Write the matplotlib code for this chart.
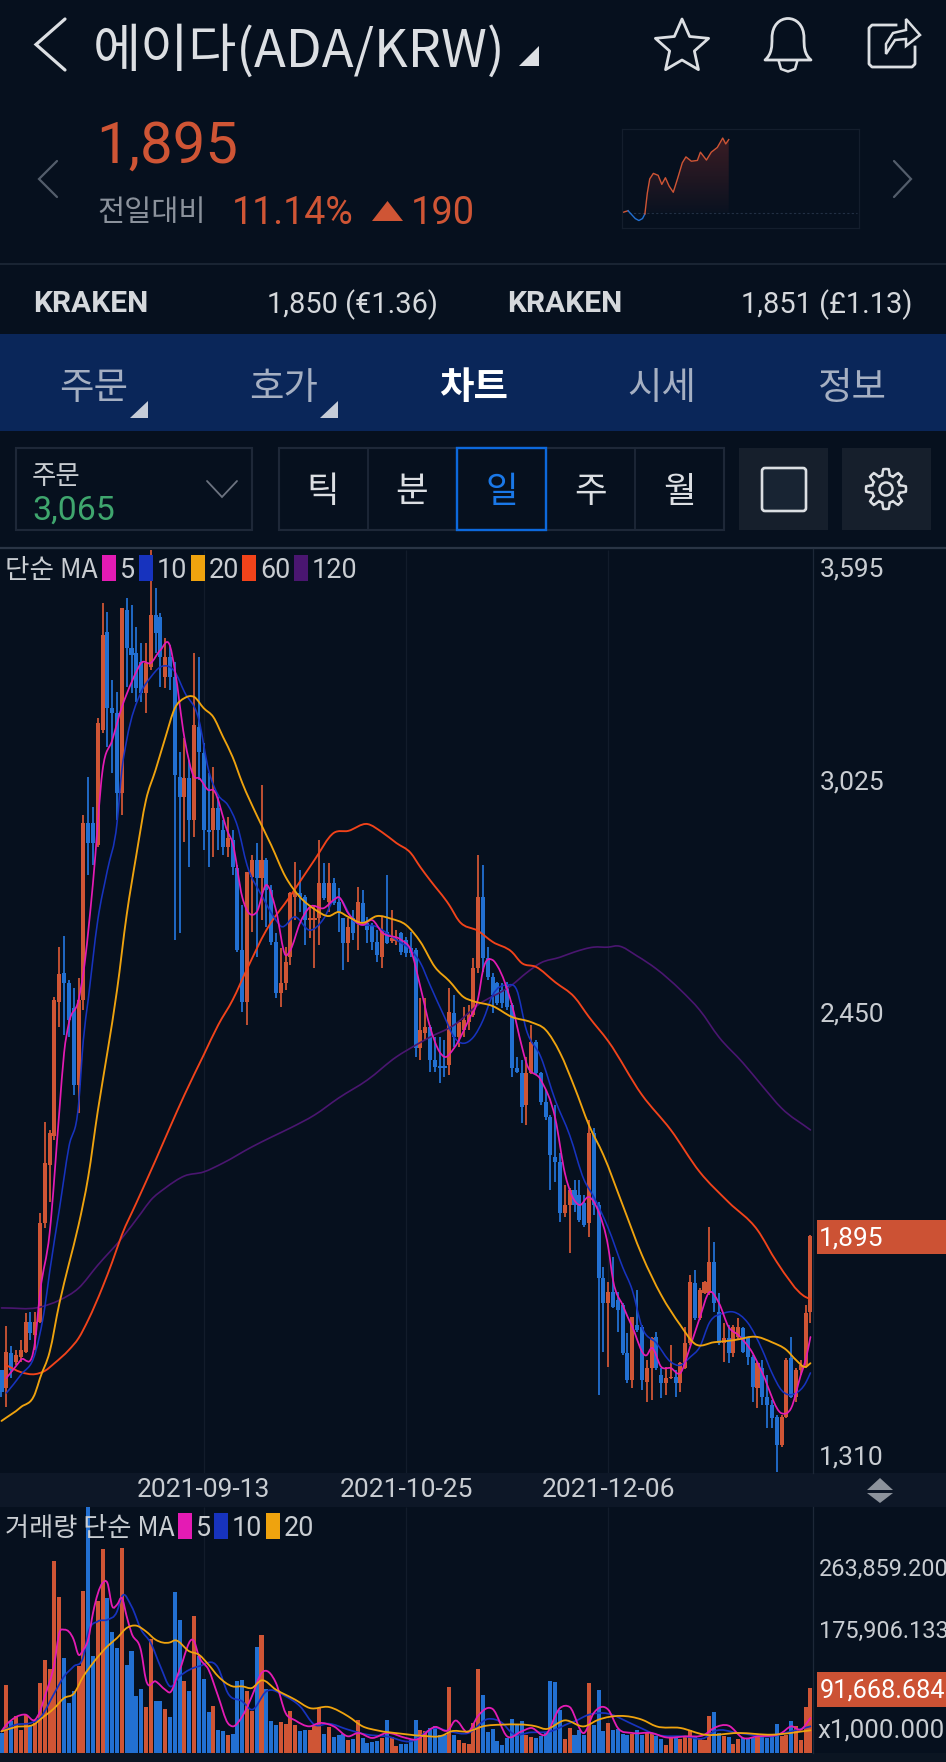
import matplotlib
matplotlib.use("Agg")
import matplotlib.pyplot as plt
import numpy as np
from matplotlib.patches import Rectangle, Polygon, FancyBboxPatch, PathPatch, Circle
from matplotlib.path import Path
from matplotlib.transforms import ScaledTranslation
from matplotlib.colors import LinearSegmentedColormap

W, H = 946, 1762
KR = ['Noto Sans CJK KR', 'DejaVu Sans']
RB = ['Roboto', 'DejaVu Sans']
plt.rcParams['font.family'] = KR

# ---------- data ----------
opens = [1563,1519,1605,1583,1595,1608,1682,1650,1682,1927,2071,2143,2475,2547,2522,2460,2269,2480,2919,2919,
2864,3149,3392,3203,3191,2993,3446,3352,3340,3317,3241,3305,3434,3429,3280,3330,3280,3032,2983,3030,
2926,3156,3092,2901,2901,2956,2901,2859,2876,2807,2604,2475,2785,2827,2782,2827,2752,2624,2497,2522,
2586,2735,2745,2735,2678,2678,2683,2770,2723,2770,2723,2683,2621,2683,2673,2720,2671,2666,2624,2586,
2648,2626,2626,2646,2629,2609,2604,2361,2398,2413,2331,2316,2316,2319,2448,2388,2406,2425,2443,2559,
2735,2584,2537,2522,2505,2517,2468,2311,2299,2220,2299,2376,2299,2227,2190,2091,2078,1952,1972,2009,
1997,1977,1927,2150,1972,1791,1729,1756,1736,1724,1605,1538,1675,1670,1533,1568,1645,1551,1531,1543,
1546,1531,1568,1630,1779,1692,1754,1754,1831,1707,1630,1642,1605,1645,1667,1642,1595,1519,1568,1496,
1476,1447,1377,1447,1593,1496,1563,1575,1707]
highs = [1563,1672,1623,1613,1637,1704,1707,1707,1952,2178,2158,2487,2611,2638,2529,2510,2534,2938,3033,2958,
3179,3464,3441,3273,3243,3451,3476,3459,3404,3365,3365,3595,3501,3439,3377,3360,3317,3094,3129,3075,
3340,3330,3117,3042,3057,2983,2926,2933,2901,2814,2715,2797,2839,2869,3013,2832,2765,2646,2609,2611,
2748,2822,2802,2740,2715,2715,2876,2819,2819,2782,2757,2683,2683,2703,2760,2752,2686,2671,2653,2686,
2790,2703,2653,2648,2636,2648,2609,2485,2485,2418,2388,2388,2381,2510,2492,2425,2463,2468,2584,2839,
2814,2611,2547,2524,2522,2524,2473,2339,2331,2339,2418,2381,2302,2257,2195,2220,2101,2021,2014,2034,
2034,1997,2183,2163,1979,1818,1781,1843,1756,1729,1655,1694,1761,1675,1588,1645,1657,1568,1571,1625,
1563,1583,1670,1798,1811,1766,1783,1917,1880,1754,1680,1675,1675,1692,1670,1645,1600,1583,1588,1551,
1489,1451,1451,1593,1645,1568,1588,1724,1898]
lows = [1496,1471,1543,1575,1583,1605,1637,1613,1680,1915,1979,2133,2413,2393,2388,2244,2200,2455,2790,2814,
2860,3142,3107,3042,2926,2938,3256,3241,3218,3218,3191,3298,3340,3256,3253,3248,2629,2646,2871,2809,
2884,3025,2852,2809,2834,2852,2839,2834,2790,2600,2450,2418,2648,2586,2678,2661,2616,2485,2463,2505,
2567,2678,2698,2616,2634,2559,2616,2728,2698,2715,2648,2554,2574,2629,2604,2671,2621,2604,2574,2559,
2618,2621,2616,2591,2586,2586,2339,2331,2381,2302,2302,2274,2289,2294,2363,2363,2388,2406,2438,2547,
2549,2529,2448,2468,2460,2455,2289,2299,2175,2170,2296,2294,2220,2183,2009,2029,1930,1942,1853,1955,
1930,1917,1893,1947,1501,1608,1571,1717,1657,1600,1531,1519,1657,1513,1484,1489,1563,1494,1501,1541,
1496,1509,1565,1625,1687,1687,1752,1749,1707,1625,1583,1580,1595,1637,1605,1575,1484,1469,1476,1419,
1419,1310,1372,1444,1494,1484,1551,1568,1680]
closes = [1509,1608,1563,1600,1613,1682,1655,1682,1927,2076,2150,2480,2544,2522,2430,2269,2480,2919,2869,2869,
3166,3384,3203,3191,2993,3451,3352,3335,3253,3241,3315,3434,3389,3330,3330,3280,3037,2983,3030,2926,
3161,3094,2901,2896,2956,2901,2859,2881,2809,2604,2475,2797,2827,2782,2827,2752,2624,2497,2522,2574,
2745,2748,2735,2678,2683,2683,2770,2733,2770,2720,2698,2621,2661,2646,2723,2673,2653,2624,2591,2653,
2621,2634,2631,2599,2596,2596,2361,2406,2413,2331,2314,2311,2311,2450,2388,2425,2430,2443,2559,2735,
2584,2537,2492,2473,2473,2463,2311,2302,2215,2299,2376,2299,2227,2190,2096,2078,1952,1972,2009,1972,
1935,1922,2150,1972,1791,1729,1756,1719,1712,1605,1538,1694,1662,1538,1568,1642,1568,1531,1543,1546,
1531,1580,1630,1781,1692,1761,1781,1831,1729,1630,1642,1605,1670,1670,1608,1595,1521,1580,1496,1476,
1444,1377,1447,1588,1496,1563,1575,1704,1895]
volume = [28.4,96.9,44.9,52,32.1,54.4,37.8,42.5,99.3,132.4,119.1,271.8,220.8,134.7,70.9,88.4,122.9,230.2,348.9,137.1,
215.1,289.3,219.8,171.6,148.9,290.7,124.3,144.2,81.3,90.8,65.2,161.7,73.3,73.3,62.4,50.6,228.3,188.1,101.6,87.4,
193.8,137.1,105.4,58.1,66.2,33.1,30.7,25.1,27.4,101.6,104,87.4,59.1,149.8,166.9,90.8,44.9,40.2,44,41.1,
59.1,39.2,30.7,33.1,32.1,37.8,63.8,27.4,36.9,22.2,25.1,26.9,18.9,19.9,47.3,21.3,14.2,15.1,16.5,21.3,
46.3,22.2,10.4,12.8,12.8,18.9,47.3,33.1,30.7,35.5,37.8,26,26,93.6,26,18,14.2,13.2,42.5,119.6,
81.8,29.8,34,16.5,11.8,21.3,48.2,39.2,44.9,25.1,22.7,21.3,23.6,28.4,101.6,100.7,61.5,19.9,35.5,25.1,
33.1,25.1,99.3,40.2,88.9,31.7,42.5,33.1,34.5,26.9,26,26.9,33.1,26,28.4,28.4,24.6,19.9,11.8,21.3,
21.3,20.3,23.6,33.1,23.6,19.9,18.9,52.9,57.7,28.4,23.6,22.2,12.8,19.9,21.3,19.9,21.3,24.6,23.6,21.3,
22.2,41.1,23.6,26,44.9,37.8,18,65.2,91.67]

ma5_i = [1,4,7,8,10,12,13,14,16,17,19,21,23,25,26,28,29,31,33,35,36,38,40,41,43,44,47,48,50,53,55,57,59,60,62,64,67,69,70,72,75,77,79,83,85,87,89,91,92,94,97,99,100,102,103,106,108,109,112,115,117,120,122,124,126,127,129,131,134,135,137,139,141,143,145,147,149,151,153,156,158,162,164,166,167,168]
ma5_v = [1543,1588,1637,1754,1903,2202,2349,2423,2480,2547,2770,3050,3124,3206,3238,3293,3315,3315,3347,3357,3298,3129,3033,3030,3000,3000,2896,2869,2735,2698,2765,2703,2591,2604,2671,2710,2708,2728,2735,2695,2666,2678,2648,2629,2604,2512,2413,2351,2339,2361,2430,2485,2554,2579,2564,2468,2368,2324,2282,2187,2051,1972,1992,1955,1868,1786,1724,1670,1600,1618,1571,1568,1556,1620,1692,1756,1729,1670,1650,1605,1556,1456,1469,1551,1588,1645]
ma10_i = [1,4,7,9,10,12,14,16,17,18,20,22,24,25,26,29,31,33,36,38,41,43,45,47,49,51,54,57,58,61,64,67,69,70,73,78,82,85,87,89,92,94,98,100,102,105,107,109,112,115,118,121,123,126,129,131,133,136,139,141,143,145,147,150,152,155,158,160,162,165,167,168]
ma10_v = [1506,1551,1605,1719,1806,1960,2116,2220,2381,2480,2678,2802,2919,3050,3124,3243,3280,3305,3293,3243,3174,3050,2988,2963,2911,2814,2740,2678,2663,2686,2653,2683,2728,2733,2678,2661,2629,2604,2572,2517,2438,2388,2388,2430,2492,2517,2505,2406,2339,2232,2145,2034,1992,1915,1818,1761,1670,1630,1583,1575,1595,1620,1680,1704,1707,1680,1613,1556,1513,1506,1531,1556]
ma20_i = [0,4,7,8,10,12,14,16,18,20,22,24,26,28,30,32,34,36,38,40,42,44,46,48,50,53,56,59,62,65,68,70,72,75,78,81,84,87,90,93,96,98,102,106,110,113,116,119,122,125,129,133,137,141,144,148,152,157,160,163,165,167,168]
ma20_v = [1437,1471,1506,1543,1608,1727,1826,1922,2041,2205,2351,2505,2691,2839,2975,3050,3129,3203,3228,3231,3203,3181,3132,3082,3018,2938,2864,2785,2735,2705,2688,2698,2686,2671,2688,2681,2666,2624,2562,2527,2487,2477,2465,2438,2425,2406,2349,2264,2170,2096,1972,1848,1749,1674,1628,1632,1637,1645,1632,1613,1588,1571,1580]
ma60_i = [1,4,7,9,11,14,16,18,21,23,25,28,32,35,38,42,45,48,51,55,60,65,69,72,76,79,82,85,87,89,93,95,99,102,106,108,111,115,119,122,126,133,139,145,151,157,161,167,168]
ma60_v = [1575,1558,1553,1561,1580,1613,1642,1687,1769,1831,1898,1977,2083,2165,2245,2344,2418,2480,2557,2653,2738,2827,2894,2899,2916,2896,2869,2844,2809,2777,2715,2676,2651,2624,2599,2572,2562,2524,2487,2438,2378,2245,2158,2054,1979,1910,1831,1744,1739]
ma120_i = [0,8,12,16,20,25,29,31,34,38,42,46,52,56,60,65,70,76,82,86,89,94,99,106,109,112,116,119,123,126,128,132,136,141,145,149,154,158,162,168]
ma120_v = [1717,1719,1736,1766,1823,1890,1952,1984,2014,2044,2054,2076,2116,2140,2163,2195,2237,2282,2339,2368,2388,2418,2468,2517,2547,2572,2586,2599,2611,2611,2614,2589,2557,2505,2455,2388,2324,2267,2212,2158]

vma5_i = [0,1,2,3,5,7,8,9,11,12,13,15,16,17,18,19,21,22,23,24,25,26,27,29,30,32,34,35,37,40,41,43,45,47,48,50,52,54,57,59,61,64,66,69,72,74,77,80,84,86,90,93,94,97,99,102,105,108,110,113,116,118,121,123,126,128,131,135,138,142,146,148,151,154,157,162,164,166,168]
vma5_v = [30.7,40.2,46.3,51,54.4,47.3,59.1,80.4,127.6,170.2,174.9,160.7,139.4,146.5,160.7,198.5,241.1,241.1,208,210.4,219.8,193.8,170.2,144.2,104,101.6,89.8,86,118.2,158.4,137.1,118.2,80.4,42.5,37.8,52,80.4,113.4,99.3,56.7,46.3,37.8,42.5,37.8,23.6,28.4,21.3,28.4,21.3,18.9,36.9,34,44.9,30,52.9,62.4,23.6,30.7,35.5,26,63.8,65.2,28.4,56.7,61.5,35.5,28.4,28.4,22.2,23.6,26,35.5,38.8,21.3,23.6,28.4,37.8,33.1,49.6]
vma10_i = [0,3,6,8,11,13,15,17,18,20,22,24,25,27,29,31,33,35,37,41,45,47,50,52,55,59,62,65,68,72,76,80,85,90,93,97,101,104,106,110,114,118,119,122,125,132,136,142,146,148,153,160,164,168]
vma10_v = [30.7,40.2,42.5,49.6,85.1,108.7,122.9,137.1,170.2,186.7,189.1,200.9,222.2,208,174.9,156,122.9,94.5,108.7,122.9,120.5,85.1,73.3,61.5,87.4,80.4,66.2,40.2,41.6,33.1,26,23.6,16.5,35.5,30.7,28.4,48.2,42.5,28.4,29.3,30.7,42.5,44.9,54.4,56.7,37.8,26,23.6,21.3,30.7,28.4,23.6,30.7,37.8]
vma20_i = [0,3,7,8,11,13,15,17,19,22,24,26,28,30,32,35,36,39,41,43,45,48,50,52,54,57,61,64,68,72,75,78,83,87,92,93,97,100,104,111,113,117,121,124,133,136,141,146,153,160,168]
vma20_v = [30.7,36.9,41.6,47.3,63.8,78,84.1,108.7,127.6,151.3,163.1,177.3,180.6,172.5,160.7,156.9,159.8,144.2,139.4,125.3,108.7,94.5,94.5,92.2,103,89.8,75.6,63.8,65.2,52,37.8,32.1,27.4,24.6,26,29.8,30.7,37.8,40.2,37.8,34,46.3,37.8,47.3,47.3,37.8,35.5,26,28.4,26,32.1]

date_idx = [42, 84, 126]
date_labels = ['2021-09-13', '2021-10-25', '2021-12-06']
price_ticks = [3595, 3025, 2450, 1895, 1310]
price_labels = ['3,595', '3,025', '2,450', '1,895', '1,310']
vol_ticks = [263.8592, 175.906133, 91.668684]
vol_labels = ['263,859.200', '175,906.133', '91,668.684']
mini_t = [0,10,16,22,28,34,38,42,46,52,60,66,72,78,85,92,100,106,115,125,130,140,148,158,167,172,177]
mini_v = [1705,1710,1700,1690,1685,1690,1702,1755,1791,1805,1800,1777,1794,1773,1757,1791,1832,1847,1836,1838,1859,1839,1859,1871,1895,1880,1891]

# ---------- colours ----------
BG = '#06101E'; BAND = '#0D1727'; TAB = '#0A2659'
RED = '#CF5535'; BLUE = '#2270D2'; TXT = '#C9CDD2'
C5, C10, C20, C60, C120 = '#E41BB4', '#1733BE', '#EFA30E', '#F2431A', '#4A1670'

fig = plt.figure(figsize=(W/100, H/100), dpi=100, facecolor=BG)

def px_axes(x0, y0, x1, y1, **kw):
    return fig.add_axes([x0/W, 1-y1/H, (x1-x0)/W, (y1-y0)/H], **kw)

def smooth_line(a, xs, ys, color, lw, z):
    """Draw a line through the read points with rounded joins between them (monotone in x)."""
    x = np.asarray(xs, float); y = np.asarray(ys, float)
    m = np.gradient(y, x)
    verts = [(x[0], y[0])]; codes = [Path.MOVETO]
    for k in range(len(x)-1):
        d = (x[k+1]-x[k])/3
        verts += [(x[k]+d, y[k]+m[k]*d), (x[k+1]-d, y[k+1]-m[k+1]*d), (x[k+1], y[k+1])]
        codes += [Path.CURVE4]*3
    a.add_patch(PathPatch(Path(verts, codes), fc='none', ec=color, lw=lw, zorder=z, capstyle='round'))

# back layer
back = px_axes(0, 0, W, H, zorder=0)
back.set_xlim(0, W); back.set_ylim(H, 0); back.axis('off')
def rect(a, x0, y0, x1, y1, fc='none', ec='none', lw=0, z=1):
    a.add_patch(Rectangle((x0, y0), x1-x0, y1-y0, fc=fc, ec=ec, lw=lw, zorder=z))
rect(back, 0, 334, W, 431, fc=TAB)
rect(back, 0, 1473, W, 1507, fc=BAND)
rect(back, 0, 1753, W, H, fc='#0B1522')
back.plot([0, W], [263.5, 263.5], color='#1A2534', lw=1.4)
back.plot([0, W], [548, 548], color='#2A3545', lw=1.6)
back.plot([813, 813], [549, 1473], color='#1D2838', lw=0.9)
back.plot([813, 813], [1507, 1753], color='#1D2838', lw=0.9)
rect(back, 817, 1220, W, 1254, fc='#CC5234')
rect(back, 817, 1672, W, 1707, fc='#CC5234')

# selector row
rect(back, 16, 448, 252, 530, ec='#1E2838', lw=1.5)
rect(back, 279, 448, 724, 530, ec='#1E2838', lw=1.5)
for x in [368, 457, 546, 635]:
    back.plot([x, x], [448, 530], color='#1E2838', lw=1.3)
rect(back, 457, 448, 546, 530, ec='#0D69DC', lw=1.7, z=3)
rect(back, 739, 448, 828, 530, fc='#161F2C')
rect(back, 842, 448, 931, 530, fc='#161F2C')

# price panel
xlim = (-0.31, 168.53)
ax = px_axes(0, 550, 813, 1473, zorder=2)
ax.patch.set_alpha(0)
ax.set_xlim(*xlim); ax.set_ylim(1308, 3595)
for s in ax.spines.values():
    s.set_visible(False)
idx = np.arange(len(closes))
colors = [RED if c >= o else BLUE for o, c in zip(opens, closes)]
ax.vlines(date_idx, 1308, 3595, color='#121C2B', lw=0.9, zorder=0)
ax.vlines(idx, lows, highs, colors=colors, lw=1.3, zorder=2)
o_ = np.array(opens); c_ = np.array(closes)
ax.bar(idx, np.abs(c_-o_), bottom=np.minimum(o_, c_), width=0.84, color=colors, lw=0, zorder=2.1)
smooth_line(ax, ma120_i, ma120_v, C120, 1.2, 3)
smooth_line(ax, ma60_i, ma60_v, C60, 1.35, 3.1)
smooth_line(ax, ma10_i, ma10_v, C10, 1.15, 3.2)
smooth_line(ax, ma5_i, ma5_v, C5, 1.25, 3.3)
smooth_line(ax, ma20_i, ma20_v, C20, 1.35, 3.4)
ax.set_xticks(date_idx); ax.set_xticklabels(date_labels, family=RB, fontsize=19, color=TXT)
ax.tick_params(axis='x', length=0, pad=3.5)
ax.yaxis.tick_right()
ax.set_yticks(price_ticks); ax.set_yticklabels(price_labels, family=RB, fontsize=19, color=TXT)
ax.tick_params(axis='y', length=0, pad=4.5)
tl = ax.get_yticklabels()
tl[0].set_transform(tl[0].get_transform() + ScaledTranslation(0, -0.17, fig.dpi_scale_trans))
tl[4].set_transform(tl[4].get_transform() + ScaledTranslation(0, 0.17, fig.dpi_scale_trans))
tl[3].set_color('white')

# volume panel
vx = px_axes(0, 1507, 813, 1753, zorder=2)
vx.patch.set_alpha(0)
vx.set_xlim(*xlim); vx.set_ylim(0, 348.9)
for s in vx.spines.values():
    s.set_visible(False)
vx.vlines(date_idx, 0, 348.9, color='#121C2B', lw=0.9, zorder=0)
vx.bar(idx, volume, width=0.84, color=colors, lw=0, zorder=2)
smooth_line(vx, vma10_i, vma10_v, C10, 1.25, 3)
smooth_line(vx, vma5_i, vma5_v, C5, 1.3, 3.1)
smooth_line(vx, vma20_i, vma20_v, C20, 1.3, 3.2)
vx.set_xticks([])
vx.yaxis.tick_right()
vx.set_yticks(vol_ticks); vx.set_yticklabels(vol_labels, family=RB, fontsize=16.9, color=TXT)
vx.tick_params(axis='y', length=0, pad=4.5)
vx.get_yticklabels()[2].set_color('white')
vx.get_yticklabels()[2].set_fontsize(18.2)

# mini chart
mx = px_axes(622, 129, 859, 228, zorder=2)
mx.set_facecolor('none')
mx.set_xticks([]); mx.set_yticks([])
for s in mx.spines.values():
    s.set_color('#141E2D'); s.set_linewidth(0.9)
mx.axhline(1705, color='#223044', lw=0.8, ls=(0, (2, 2)), xmin=0.03, xmax=0.99)
grad = np.linspace(0, 1, 64).reshape(-1, 1)
cm = LinearSegmentedColormap.from_list('g', ['#0A1220', '#3A1C24'])
im = mx.imshow(grad, extent=(0, 393, 1705, 1895), origin='lower', aspect='auto', cmap=cm, zorder=1)
clip = Polygon(list(zip(mini_t[6:], mini_v[6:])) + [(mini_t[-1], 1705), (mini_t[6], 1705)], transform=mx.transData, fc='none', ec='none')
mx.add_patch(clip); im.set_clip_path(clip)
mx.set_xlim(0, 393); mx.set_ylim(1666, 1918)
mx.plot(mini_t[:2], mini_v[:2], color=RED, lw=1.0, zorder=2)
mx.plot(mini_t[1:7], mini_v[1:7], color=BLUE, lw=1.0, zorder=2)
mx.plot(mini_t[6:], mini_v[6:], color=RED, lw=1.0, zorder=2)

# overlay layer: text + icons
ui = px_axes(0, 0, W, H, zorder=5)
ui.set_xlim(0, W); ui.set_ylim(H, 0); ui.axis('off'); ui.patch.set_alpha(0)
def T(x, y, s, size, color=TXT, ha='left', fam=KR, weight='normal'):
    ui.text(x, y, s, fontsize=size*0.72, color=color, ha=ha, va='center_baseline', family=fam, weight=weight)
def chevron(pts, color, lw):
    ui.plot(*zip(*pts), color=color, lw=lw, solid_capstyle='round', solid_joinstyle='miter')

WH = '#DCDFE3'
chevron([(65, 19), (36, 44.5), (65, 70)], WH, 2.3)
T(93, 46, '에이다(ADA/KRW)', 52.3, WH)
ui.add_patch(Polygon([(539, 46), (539, 66), (519, 66)], fc=WH, ec='none'))
# star
ang = np.deg2rad(np.arange(-90, 270, 36))
rad = np.where(np.arange(10) % 2 == 0, 28, 13)
ui.add_patch(Polygon(np.c_[682+rad*np.cos(ang), 47+rad*np.sin(ang)], fc='none', ec=WH, lw=2.0, joinstyle='round'))
# bell
bell = Path([(765, 60), (772, 54), (772, 46), (772, 38), (772, 25), (780, 18.5), (788, 18.5), (796, 18.5), (804, 25), (804, 38), (804, 46), (804, 54), (811, 60), (765, 60)],
            [Path.MOVETO] + [Path.CURVE4]*12 + [Path.CLOSEPOLY])
ui.add_patch(PathPatch(bell, fc='none', ec=WH, lw=2.0, joinstyle='round'))
ui.plot(*zip(*[(779, 62), (781, 69), (788, 71.5), (795, 69), (797, 62)]), color=WH, lw=1.8)
# share
ui.plot(*zip(*[(896, 25), (872, 25), (869, 28), (869, 64), (872, 67), (912, 67), (915, 64), (915, 47)]), color=WH, lw=2.0)
ui.add_patch(Polygon([(906, 19), (920, 35), (906, 46), (906, 39), (895, 40), (886, 54), (886, 44), (893, 33), (906, 30)], fc='none', ec=WH, lw=1.8))

T(96, 141, '1,895', 58, RED, fam=RB)
chevron([(57, 161), (39, 179), (57, 197)], '#535D6B', 1.6)
chevron([(894, 161), (911, 179), (894, 197)], '#535D6B', 1.6)
T(97, 209, '전일대비', 29.5, '#8B929C')
T(232, 210, '11.14%', 37.5, RED, fam=RB)
ui.add_patch(Polygon([(372, 221), (403, 221), (387.5, 201)], fc=RED, ec='none'))
T(411, 210, '190', 38, RED, fam=RB)

T(33, 301, 'KRAKEN', 30, '#D5D8DC', fam=RB, weight='bold')
T(438, 301, '1,850 (€1.36)', 29, '#D5D8DC', ha='right', fam=RB)
T(507, 301, 'KRAKEN', 30, '#D5D8DC', fam=RB, weight='bold')
T(912, 301, '1,851 (£1.13)', 29, '#D5D8DC', ha='right', fam=RB)

for x, s in [(94, '주문'), (284, '호가'), (662, '시세'), (852, '정보')]:
    T(x, 384, s, 37.5, '#A5AFC2', ha='center')
T(474, 384, '차트', 37.5, 'white', ha='center', weight='bold')
for x0 in [130, 320]:
    ui.add_patch(Polygon([(x0+18, 401), (x0+18, 418), (x0, 418)], fc='#C6CCD8', ec='none'))

T(32, 474, '주문', 26.5, TXT)
T(32, 507, '3,065', 33.8, '#3FA66E', fam=RB)
chevron([(207, 481), (222, 497), (237, 481)], '#6C7380', 1.3)
for x, s, c in [(323, '틱', WH), (412, '분', WH), (502, '일', '#1A78E8'), (591, '주', WH), (680, '월', WH)]:
    T(x, 488, s, 35.5, c, ha='center')
ui.add_patch(FancyBboxPatch((764, 470), 40, 39, boxstyle='round,pad=2,rounding_size=3', fc='#182433', ec=WH, lw=1.9))
# gear
th = np.linspace(0, 2*np.pi, 193)
rg = 17 + 3.0*np.clip(2.2*np.cos(8*th), -1, 1)
ui.add_patch(Polygon(np.c_[886+rg*np.cos(th), 489+rg*np.sin(th)], fc='none', ec=WH, lw=1.8))
ui.add_patch(Circle((886, 489), 6.5, fc='none', ec=WH, lw=1.8))

# legends
T(5, 567, '단순 MA', 26.6, TXT)
for x0, c, s in [(102, C5, '5'), (139, C10, '10'), (191, C20, '20'), (242, C60, '60'), (294, C120, '120')]:
    rect(ui, x0, 555, x0+13.5, 581, fc=c, z=4)
    T(x0+18, 567, s, 27, TXT, fam=RB)
T(5, 1525, '거래량 단순 MA', 26.2, TXT)
for x0, c, s in [(178, C5, '5'), (214, C10, '10'), (266, C20, '20')]:
    rect(ui, x0, 1513, x0+13.5, 1539, fc=c, z=4)
    T(x0+18, 1525, s, 27, TXT, fam=RB)
T(817, 1728, 'x1,000.000', 26, TXT, fam=RB)
ui.add_patch(Polygon([(867, 1490), (893, 1490), (880, 1478)], fc='#8C929B', ec='none'))
ui.add_patch(Polygon([(867, 1493), (893, 1493), (880, 1503)], fc='#8C929B', ec='none'))

fig.savefig('out.png', dpi=100, facecolor=BG)
